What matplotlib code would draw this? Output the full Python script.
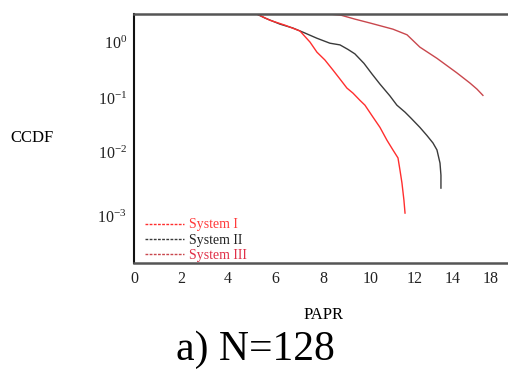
import numpy as np
import matplotlib
matplotlib.use("Agg")
import matplotlib.pyplot as plt
from matplotlib.lines import Line2D

plt.rcParams['font.family'] = ['Liberation Serif', 'DejaVu Serif']
plt.rcParams['mathtext.fontset'] = 'custom'
plt.rcParams['mathtext.rm'] = 'Liberation Serif'
plt.rcParams['mathtext.it'] = 'Liberation Serif:italic'

# PAPR (dB) and CCDF values
papr_1 = [5.23, 5.79, 6.42, 7.04, 7.46, 7.75, 8.08, 8.42, 8.71, 9.0, 9.25, 9.54,
          9.75, 10.09, 10.41, 10.73, 11.0, 11.23, 11.32, 11.41, 11.5, 11.55]
ccdf_1 = [3.16, 2.45, 2.0, 1.58, 1.0, 0.66, 0.48, 0.316, 0.219, 0.151, 0.123, 0.0912,
          0.0741, 0.0447, 0.0288, 0.0166, 0.011, 0.00813, 0.00525, 0.00331, 0.00178, 0.00112]

papr_2 = [5.23, 5.57, 6.21, 6.75, 7.25, 7.75, 8.29, 8.71, 9.04, 9.33, 9.71, 10.05,
          10.41, 10.86, 11.18, 11.55, 11.82, 12.26, 12.63, 12.95, 13.16, 13.32, 13.37, 13.37]
ccdf_2 = [3.16, 2.69, 2.09, 1.78, 1.45, 1.17, 0.955, 0.891, 0.741, 0.617, 0.417, 0.269,
          0.178, 0.110, 0.0741, 0.055, 0.0427, 0.0288, 0.0204, 0.0148, 0.011, 0.00676,
          0.00437, 0.00275]

papr_3 = [5.23, 7.04, 8.29, 8.75, 9.33, 9.96, 11.0, 11.64, 12.26, 13.16, 14.42, 15.79,
          16.53, 17.16]
ccdf_3 = [3.16, 3.16, 3.16, 3.02, 2.57, 2.19, 1.70, 1.35, 0.813, 0.513, 0.282, 0.186,
          0.145, 0.112]

labels = ['System I', 'System II', 'System III']
colors = ['#ff2e2e', '#3a3a3a', '#c9474d']
label_colors = ['#ff3b3b', '#222222', '#e03048']

x_ticks = [0, 2, 4, 6, 8, 10, 12, 14, 18]
y_ticks = [1e-3, 1e-2, 1e-1, 1]
y_ticklabels = ['$10^{-3}$', '$10^{-2}$', '$10^{-1}$', '$10^{0}$']

# the printed axis is not evenly spaced, so map it piecewise
x_tick_px = [134, 181, 228, 275, 323, 371, 415, 453, 491]
y_tick_px = [0, 64, 118, 174]


def piecewise(v, src, dst):
    v = np.asarray(v, dtype=float)
    flat = np.atleast_1d(v).ravel()
    out = np.interp(flat, src, dst)
    lo = flat < src[0]
    hi = flat > src[-1]
    out[lo] = dst[0] + (flat[lo] - src[0]) * (dst[1] - dst[0]) / (src[1] - src[0])
    out[hi] = dst[-1] + (flat[hi] - src[-1]) * (dst[-1] - dst[-2]) / (src[-1] - src[-2])
    return out.reshape(v.shape)


def x_fwd(v):
    return piecewise(v, x_ticks, x_tick_px)


def x_inv(p):
    return piecewise(p, x_tick_px, x_ticks)


def y_fwd(v):
    v = np.clip(np.asarray(v, dtype=float), 1e-12, None)
    return piecewise(np.log10(v), [-3, -2, -1, 0], y_tick_px)


def y_inv(p):
    return 10 ** piecewise(p, y_tick_px, [-3, -2, -1, 0])


fig = plt.figure(figsize=(5.08, 3.69), dpi=100)
ax = fig.add_axes([134 / 508, 106 / 369, 374 / 508, 249.5 / 369])
ax.set_xscale('function', functions=(x_fwd, x_inv))
ax.set_yscale('function', functions=(y_fwd, y_inv))

ax.plot(papr_3, ccdf_3, color=colors[2], lw=1.0)
ax.plot(papr_2, ccdf_2, color=colors[1], lw=1.0)
ax.plot(papr_1, ccdf_1, color=colors[0], lw=1.0)

ax.set_xlim(0, 19.8)
ax.set_ylim(10 ** -3.73, 10 ** 0.51)

ax.set_xticks(x_ticks)
ax.set_xticklabels([str(t) for t in x_ticks])
ax.set_yticks(y_ticks)
ax.set_yticklabels(y_ticklabels)
ax.xaxis.set_minor_locator(matplotlib.ticker.NullLocator())
ax.yaxis.set_minor_locator(matplotlib.ticker.NullLocator())
ax.tick_params(axis='both', length=0, labelsize=11.5, colors='#222222')
ax.tick_params(axis='x', pad=6)
ax.tick_params(axis='y', pad=5)

ax.spines['right'].set_visible(False)
ax.spines['top'].set_color('#555555')
ax.spines['top'].set_linewidth(1.8)
ax.spines['bottom'].set_color('#555555')
ax.spines['bottom'].set_linewidth(1.8)
ax.spines['left'].set_color('#111111')
ax.spines['left'].set_linewidth(1.5)

handles = [Line2D([], [], color=c, lw=1.0, linestyle=(0, (2, 1))) for c in colors]
leg = ax.legend(handles, labels, loc='lower left', bbox_to_anchor=(0.027, 0.0),
                frameon=False, fontsize=10,
                handlelength=2.8, handletextpad=0.35, labelspacing=0.15,
                borderaxespad=0.0, borderpad=0.1)
for txt, c in zip(leg.get_texts(), label_colors):
    txt.set_color(c)

fig.text(32 / 508, 1 - 138 / 369, 'CCDF', ha='center', va='center', fontsize=12)
fig.text(324 / 508, 1 - 315 / 369, 'PAPR', ha='center', va='center', fontsize=12)
fig.text(255 / 508, 1 - 350 / 369, 'a) N=128', ha='center', va='center', fontsize=30)

fig.savefig('out.png', dpi=100)
